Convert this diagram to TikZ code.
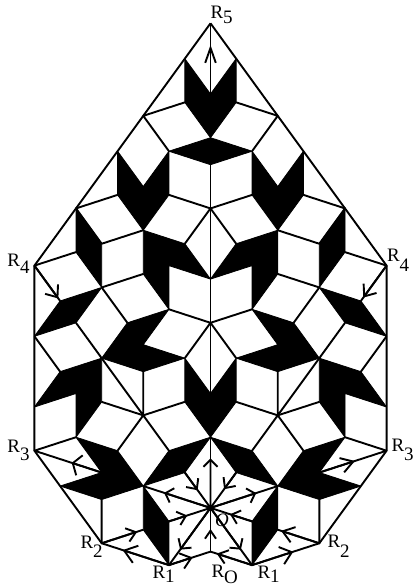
\documentclass[tikz,border=0pt]{standalone}
\usepackage{fontspec}
\setmainfont{Liberation Serif}
\usetikzlibrary{arrows.meta,calc}
\newcommand\ua{25.69}\newcommand\ub{41.56}\newcommand\uc{67.25}
\newcommand\ud{83.12}\newcommand\ue{92.94}\newcommand\uf{108.81}
\newcommand\ug{134.5}\newcommand\uh{150.37}\newcommand\ui{176.06}
\newcommand\vtx[3]{\coordinate (l#1) at ({210.5-#2},#3);\coordinate (r#1) at ({210.5+#2},#3);}
\newcommand\harr[5]{\draw[-{Straight Barb[length=#4pt,width=#5pt]}] (#1) -- ($(#1)!#3!(#2)$);}
\newcommand\rlab[2]{R\raisebox{-#1pt}{#2}}
\newcommand\halfpic[1]{%
  \draw[blk] (#1A1)--(#1A2)--(C2)--(C1)--cycle;
  \draw[blk] (#1D1)--(#1D2)--(#1B2)--(#1D3)--(#1D4)--(#1D5)--cycle;
  \draw[blk] (#1F1)--(#1F2)--(#1F4)--(#1F3)--cycle;
  \draw[blk] (#1D4)--(#1E1)--(C5)--(#1G3)--(#1G2)--(#1G1)--cycle;
  \draw[blk] (#1G2)--(#1H2)--(#1H4)--(#1H6)--(#1H5)--(#1H3)--cycle;
  \draw[blk] (#1F4)--(#1H1)--(#1J2)--(#1J1)--cycle;
  \draw[blk] (#1H4)--(#1K1)--(#1J6)--(#1J5)--(#1J4)--(#1J3)--cycle;
  \draw[blk] (#1H5)--(C7)--(C8)--(#1K3)--cycle;
  \draw[blk] (#1L4)--(#1L3)--(#1L1)--(C8)--cycle;
  \draw[blk] (#1J6)--(#1L2)--(#1L3)--(#1M4)--(#1M5)--(#1M3)--cycle;
  \draw[blk] (#1L3)--(#1M1)--(#1R1)--(#1M2)--cycle;
  \draw[blk] (C2)--(#1B2)--(C3)--cycle;
  \draw (R5)--(#1R4)--(#1R3)--(#1R2)--(#1R1)--(R0);
  \draw (#1A2)--(#1B1)--(#1B2);
  \draw (#1D3)--(C4)--(#1E1);
  \draw (#1D5)--(#1F1)--(#1F2)--(#1D4);
  \draw (#1F3)--(#1R4)--(#1H1);
  \draw (#1G1)--(#1F4)--(#1H2);
  \draw (#1G2)--(C6)--(#1H5);
  \draw (#1J1)--(#1H4)--(#1K2)--(#1H6);
  \draw (#1J2)--(#1J3);
  \draw (#1K1)--(#1K2)--(#1K3);
  \draw (#1L2)--(#1K2)--(#1L1);
  \draw (#1J6)--(#1R3)--(#1M3);
  \draw (#1M4)--(#1R2)--(#1M2);
  \draw (#1L4)--(O) (#1L3)--(O) (#1M1)--(O) (#1R1)--(O);
}
\begin{document}
\begin{tikzpicture}[x=1pt,y=-1pt,line width=1.9pt,line join=round,
  blk/.style={fill=black,draw=black,line width=.8pt},
  lab/.style={anchor=base west,inner sep=0pt,outer sep=0pt,font=\fontsize{19}{19}\selectfont}]
\useasboundingbox (0,0) rectangle (415,587);
% centre line
\coordinate (R5) at (210.5,23.3);
\coordinate (C1) at (210.5,94);
\coordinate (C2) at (210.5,137.7);
\coordinate (C3) at (210.5,164.7);
\coordinate (C4) at (210.5,208.4);
\coordinate (C5) at (210.5,279.1);
\coordinate (C6) at (210.5,322.8);
\coordinate (C7) at (210.5,393.5);
\coordinate (C8) at (210.5,437.2);
\coordinate (O) at (210.5,507.9);
\coordinate (R0) at (210.5,551.6);
% mirrored vertices
\vtx{A1}{\ua}{58.65}\vtx{A2}{\ua}{102.35}
\vtx{B1}{\uc}{115.85}\vtx{B2}{\ub}{151.2}
\vtx{D1}{\ue}{151.2}\vtx{D2}{\uc}{186.55}\vtx{D3}{\ub}{194.9}
\vtx{D4}{\uc}{230.25}\vtx{D5}{\ue}{194.9}
\vtx{E1}{\ua}{243.75}
\vtx{F1}{\ug}{208.4}\vtx{F2}{\uf}{243.75}\vtx{F3}{\ug}{252.1}\vtx{F4}{\uf}{287.45}
\vtx{R4}{\ui}{265.6}
\vtx{G1}{\uc}{273.95}\vtx{G2}{\ub}{309.3}\vtx{G3}{\ub}{265.6}
\vtx{H1}{\uh}{300.95}\vtx{H2}{\ud}{322.8}\vtx{H3}{\uc}{344.65}
\vtx{H4}{\uf}{358.15}\vtx{H5}{\ua}{358.15}\vtx{H6}{\uc}{371.65}
\vtx{J1}{\ug}{322.8}\vtx{J2}{\ui}{336.3}\vtx{J3}{\uh}{371.65}
\vtx{J4}{\ui}{407}\vtx{J5}{\ug}{393.5}\vtx{J6}{\ug}{437.2}
\vtx{K1}{\uf}{401.85}\vtx{K2}{\uc}{415.35}\vtx{K3}{\ua}{401.85}
\vtx{R3}{\ui}{450.7}
\vtx{L1}{\ub}{450.7}\vtx{L2}{\ue}{450.7}\vtx{L3}{\uc}{486.05}\vtx{L4}{\ua}{472.55}
\vtx{M1}{\ub}{521.4}\vtx{M2}{\uc}{529.75}\vtx{M3}{\uf}{472.55}
\vtx{M4}{\uf}{499.55}\vtx{M5}{\uh}{486.05}
\vtx{R2}{\uf}{543.25}\vtx{R1}{\ub}{565.1}
% tiling
\halfpic{l}
\halfpic{r}
\draw (C3)--(C7) (R5)--(C1) (C8)--(O)--(R0);
\fill (O) circle (3.4pt);
% arrow heads
\harr{O}{C8}{.70}{7}{14}
\harr{R0}{O}{.517}{8}{11}
\harr{C1}{R5}{.693}{15}{10.6}
\harr{lL4}{O}{.50}{8}{15}
\harr{rL4}{O}{.47}{8}{15}
\harr{O}{lL3}{.69}{7}{15}
\harr{O}{rL3}{.68}{7}{15}
\harr{lM1}{O}{.44}{8}{14}
\harr{rM1}{O}{.53}{8}{14}
\harr{O}{lR1}{.73}{7}{16}
\harr{O}{rR1}{.73}{7}{16}
\harr{lR1}{R0}{.57}{10}{16}
\harr{rR1}{R0}{.85}{9}{14}
\harr{lR1}{lR2}{.688}{12}{18}
\harr{rR1}{rR2}{.613}{11}{18}
\harr{lR2}{lM2}{.857}{9}{14}
\harr{rR2}{rM2}{.92}{11}{16}
\harr{lM3}{lR3}{.446}{7}{21}
\harr{rM3}{rR3}{.53}{12}{15}
\harr{lR4}{lH1}{.93}{10}{16}
\harr{rR4}{rH1}{.905}{10}{16}
% labels
\node[lab] (tR5) at (210.5,18.3) {\rlab{5}{5}};
\node[lab] (tlR4) at (7.5,266) {\rlab{7}{4}};
\node[lab] (trR4) at (387,261) {\rlab{10}{4}};
\node[lab] (tlR3) at (7.5,452) {\rlab{8}{3}};
\node[lab] (trR3) at (391.5,451) {\rlab{9}{3}};
\node[lab] (tlR2) at (80.5,548) {\rlab{9}{2}};
\node[lab] (trR2) at (327.5,547) {\rlab{10}{2}};
\node[lab] (tlR1) at (152.5,578) {\rlab{4}{1}};
\node[lab] (trR1) at (257.5,578) {\rlab{4}{1}};
\node[lab] (tR0) at (211.5,577) {\rlab{6}{O}};
\node[lab] (tO) at (215,526) {\itshape O};
\end{tikzpicture}
\end{document}
